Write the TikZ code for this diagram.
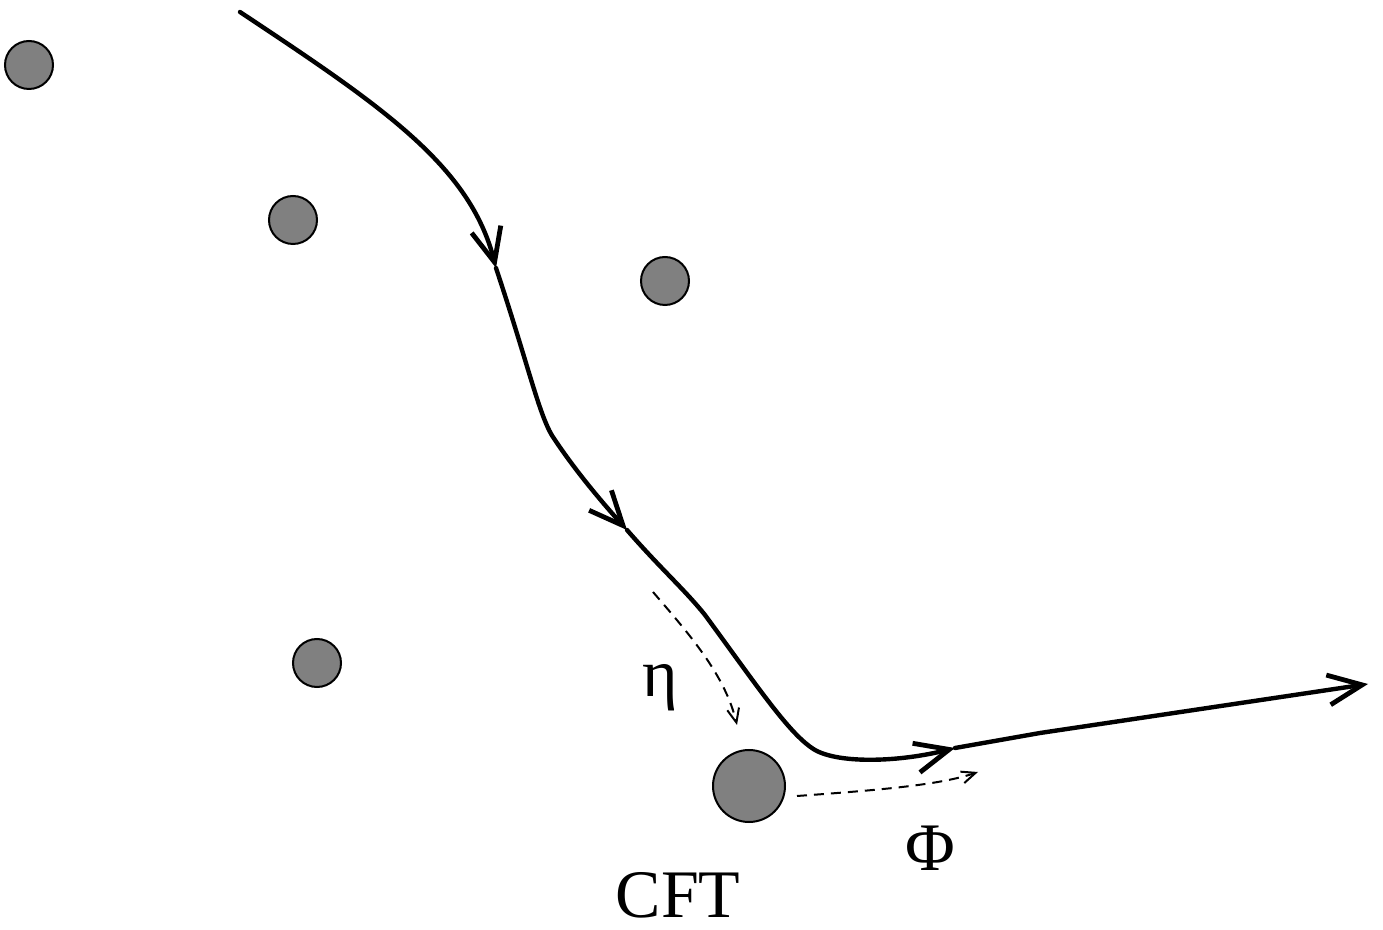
\documentclass[tikz,border=0pt]{standalone}
\usepackage{fontspec}
\setmainfont{Liberation Serif}
\usetikzlibrary{arrows.meta}
\begin{document}
\begin{tikzpicture}[x=0.5pt,y=-0.5pt,
  dot/.style={circle,draw=black,line width=1pt,fill=black!50,minimum size=24pt,inner sep=0pt},
  bigdot/.style={circle,draw=black,line width=1pt,fill=black!50,minimum size=36pt,inner sep=0pt},
  path/.style={line width=2.2pt,line cap=round},
  tip/.style={-{Straight Barb[length=17pt,width=15pt,line width=2.4pt]}},
  dsh/.style={line width=1pt,dash pattern=on 5pt off 3.5pt,-{Straight Barb[length=7pt,width=6pt,line width=1pt]}},
  lab/.style={font=\fontsize{34}{40}\selectfont,inner sep=0pt}]
\useasboundingbox (0,0) rectangle (1383,930);
\node[dot] (d1) at (29,65) {};
\node[dot] (d2) at (293,220) {};
\node[dot] (d3) at (665,281) {};
\node[dot] (d4) at (317,663) {};
\node[bigdot] (cft) at (749,786) {};
\coordinate (p0) at (240,12);
\coordinate (p1) at (496,268);
\coordinate (p2) at (627,530);
\coordinate (p3) at (955,748);
\coordinate (p4) at (1368,684);
\draw[path,tip] (p0) .. controls (380,105) and (470,165) .. (p1);
\draw[path,tip] (p1) .. controls (530,370) and (540,420) .. (555,440) .. controls (575,470) and (600,500) .. (p2);
\draw[path,tip] (p2) .. controls (660,568) and (685,590) .. (705,615) .. controls (760,690) and (790,735) .. (815,750) .. controls (840,764) and (900,762) .. (p3);
\draw[path,tip] (p3) -- (1040,733) -- (p4);
\coordinate (e0) at (653,592);
\coordinate (e1) at (737,725);
\draw[dsh] (e0) .. controls (690,635) and (725,675) .. (e1);
\coordinate (f0) at (797,796);
\coordinate (f1) at (978,772);
\draw[dsh] (f0) .. controls (880,790) and (940,785) .. (f1);
\node[lab] (eta) at (660,688) {η};
\node[lab] (phi) at (930,848) {Φ};
\node[lab] (cftl) at (678,895) {CFT};
\end{tikzpicture}
\end{document}
